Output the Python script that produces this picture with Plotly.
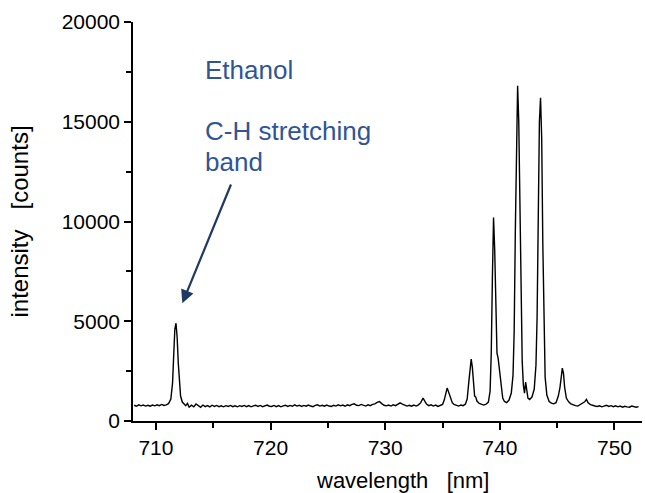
import plotly.graph_objects as go

wavelength = [
    708.1, 708.3, 708.5, 708.7, 708.9, 709.1, 709.3, 709.5, 709.7, 709.9,
    710.1, 710.3, 710.5, 710.7, 710.9, 711.1, 711.3, 711.45, 711.55, 711.65,
    711.75, 711.85, 711.95, 712.05, 712.15, 712.3, 712.45, 712.6, 712.75, 712.9,
    713.1, 713.3, 713.5, 713.7, 713.9, 714.1, 714.3, 714.5, 714.7, 714.9,
    715.1, 715.3, 715.5, 715.7, 715.9, 716.1, 716.3, 716.5, 716.7, 716.9,
    717.1, 717.3, 717.5, 717.7, 717.9, 718.1, 718.3, 718.5, 718.7, 718.9,
    719.1, 719.3, 719.5, 719.7, 719.9, 720.1, 720.3, 720.5, 720.7, 720.9,
    721.1, 721.3, 721.5, 721.7, 721.9, 722.1, 722.3, 722.5, 722.7, 722.9,
    723.1, 723.3, 723.5, 723.7, 723.9, 724.1, 724.3, 724.5, 724.7, 724.9,
    725.1, 725.3, 725.5, 725.7, 725.9, 726.1, 726.3, 726.5, 726.7, 726.9,
    727.1, 727.3, 727.5, 727.7, 727.9, 728.1, 728.3, 728.5, 728.7, 728.9,
    729.1, 729.3, 729.5, 729.7, 729.9, 730.1, 730.3, 730.5, 730.7, 730.9,
    731.1, 731.3, 731.5, 731.7, 731.9, 732.1, 732.3, 732.5, 732.7, 732.9,
    733.1, 733.3, 733.45, 733.6, 733.8, 734.0, 734.2, 734.4, 734.6, 734.8,
    735.0, 735.15, 735.3, 735.4, 735.5, 735.6, 735.7, 735.85, 736.0, 736.2,
    736.4, 736.6, 736.8, 737.0, 737.15, 737.3, 737.4, 737.5, 737.6, 737.7,
    737.8, 737.9, 738.0, 738.2, 738.4, 738.6, 738.8, 739.0, 739.15, 739.25,
    739.35, 739.45, 739.55, 739.65, 739.75, 739.85, 739.95, 740.1, 740.25, 740.4,
    740.6, 740.8, 741.0, 741.15, 741.25, 741.35, 741.45, 741.55, 741.65, 741.75,
    741.85, 741.95, 742.05, 742.15, 742.25, 742.35, 742.45, 742.6, 742.8, 743.0,
    743.15, 743.25, 743.35, 743.45, 743.55, 743.65, 743.75, 743.85, 743.95, 744.1,
    744.3, 744.5, 744.7, 744.9, 745.1, 745.25, 745.35, 745.45, 745.55, 745.65,
    745.8, 746.0, 746.2, 746.4, 746.6, 746.8, 747.0, 747.2, 747.4, 747.55,
    747.7, 747.9, 748.1, 748.3, 748.5, 748.7, 748.9, 749.1, 749.3, 749.5,
    749.7, 749.9, 750.1, 750.3, 750.5, 750.7, 750.9, 751.1, 751.3, 751.5,
    751.7, 751.9, 752.1,
]

intensity = [
    790, 740, 810, 760, 800, 750, 790, 740, 800, 760,
    810, 770, 830, 780, 810, 870, 1100, 1900, 3300, 4600,
    4900, 4200, 2900, 1800, 1250, 950, 830, 770, 880, 690,
    790, 710, 850, 760, 690, 800, 720, 770, 710, 790,
    730, 780, 720, 760, 710, 770, 730, 780, 720, 760,
    710, 770, 730, 780, 720, 770, 710, 760, 790, 730,
    780, 720, 760, 800, 740, 730, 780, 720, 770, 710,
    760, 790, 730, 780, 740, 810, 750, 790, 730, 780,
    740, 800, 750, 720, 780, 810, 750, 790, 740, 800,
    750, 730, 790, 750, 810, 760, 800, 740, 810, 770,
    830, 860, 790, 770, 830, 780, 750, 810, 770, 830,
    860, 930, 970, 870, 790, 760, 800, 750, 810, 770,
    830, 910, 850, 780, 750, 790, 740, 800, 750, 810,
    920, 1150, 990, 850, 770, 810, 750, 800, 730, 790,
    830, 1050, 1450, 1650, 1500, 1350, 1100, 920, 830, 780,
    750, 800, 770, 850, 1100, 2000, 2800, 3100, 2700, 1800,
    1250, 1200, 1000, 880, 820, 800, 840, 950, 1500, 3400,
    7200, 10200, 8600, 5200, 3400, 3150, 2600, 1700, 1150, 980,
    920, 1050, 1400, 2300, 4500, 9500, 14800, 16800, 15000, 10500,
    5500, 3000, 1800, 1400, 1950, 1550, 1150, 1080, 1200, 1600,
    2800, 5200, 10500, 15000, 16200, 14200, 8800, 4200, 2200, 1300,
    980, 900, 860, 920, 1250, 1700, 2300, 2650, 2400, 1700,
    1150, 960, 860, 800, 770, 750, 820, 860, 960, 1080,
    910, 820, 770, 750, 730, 760, 710, 760, 790, 730,
    770, 720, 760, 710, 750, 690, 740, 710, 690, 750,
    710, 690, 720,
]

x_tick_values = [710, 720, 730, 740, 750]
y_tick_values = [0, 5000, 10000, 15000, 20000]
y_tick_labels = ["0", "5000", "10000", "15000", "20000"]

label_color = "#2F5597"
arrow_color = "#1F3864"
font_family = "Liberation Sans, Arial, sans-serif"

fig = go.Figure()
fig.add_trace(go.Scatter(
    x=wavelength, y=intensity, mode="lines",
    line=dict(color="black", width=1.4),
    showlegend=False,
))

fig.update_layout(
    width=645, height=493,
    margin=dict(l=133, r=3, t=22, b=72),
    paper_bgcolor="white", plot_bgcolor="white",
    font=dict(family=font_family, size=21, color="black"),
)

fig.update_xaxes(
    range=[708.0, 752.4],
    tickvals=x_tick_values,
    ticks="outside", ticklen=7, tickwidth=1.5, tickcolor="black",
    showline=True, linecolor="black", linewidth=1.5,
    showgrid=False, zeroline=False,
    minor=dict(dtick=5, tick0=705, ticks="outside", ticklen=5, tickwidth=1.5, tickcolor="black", showgrid=False),
    tickfont=dict(size=21),
)
fig.update_yaxes(
    range=[0, 20000],
    tickvals=y_tick_values, ticktext=y_tick_labels,
    ticks="outside", ticklen=7, tickwidth=1.5, tickcolor="black",
    showline=True, linecolor="black", linewidth=1.5,
    showgrid=False, zeroline=False,
    minor=dict(dtick=2500, ticks="outside", ticklen=5, tickwidth=1.5, tickcolor="black", showgrid=False),
    title=dict(text="intensity   [counts]", standoff=26, font=dict(size=24)),
    tickfont=dict(size=21),
)

# x-axis title (placed slightly right of centre, as in the original)
fig.add_annotation(
    text="wavelength   [nm]", xref="paper", yref="paper", x=0.53, y=-0.148,
    xanchor="center", yanchor="middle", showarrow=False,
    font=dict(size=22, color="black", family=font_family),
)

fig.add_annotation(
    text="Ethanol", xref="paper", yref="paper", x=0.137, y=0.88,
    xanchor="left", yanchor="middle", showarrow=False,
    font=dict(size=26, color=label_color, family=font_family),
)
fig.add_annotation(
    text="C-H stretching", xref="paper", yref="paper", x=0.137, y=0.727,
    xanchor="left", yanchor="middle", showarrow=False,
    font=dict(size=26, color=label_color, family=font_family),
)
fig.add_annotation(
    text="band", xref="paper", yref="paper", x=0.137, y=0.65,
    xanchor="left", yanchor="middle", showarrow=False,
    font=dict(size=26, color=label_color, family=font_family),
)
fig.add_annotation(
    x=712.3, y=5900, ax=716.6, ay=11930,
    xref="x", yref="y", axref="x", ayref="y",
    text="", showarrow=True, arrowhead=2, arrowsize=1.2, arrowwidth=2.2,
    arrowcolor=arrow_color,
)

fig.write_html("out.html")
